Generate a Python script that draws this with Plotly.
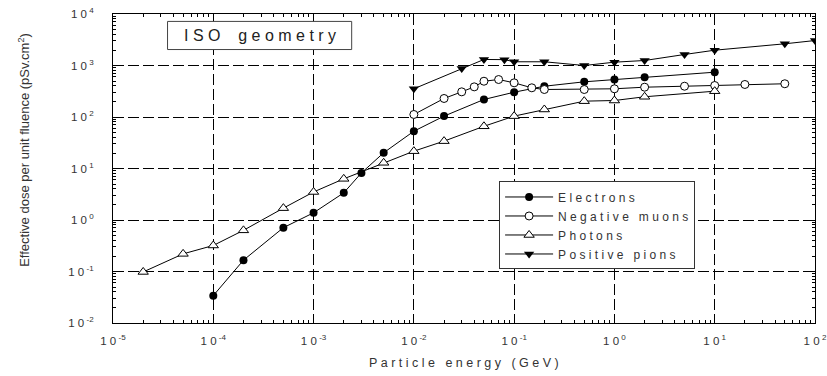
import plotly.graph_objects as go

# ---- data ----
photon_E = [2e-5, 5e-5, 1e-4, 2e-4, 5e-4, 1e-3, 2e-3, 5e-3, 0.01, 0.02, 0.05, 0.1, 0.2, 0.5, 1, 2, 10]
photon_D = [0.098, 0.22, 0.32, 0.63, 1.7, 3.5, 6.3, 12.9, 21.7, 34, 66, 104, 140, 203, 209, 247, 317]

electron_E = [1e-4, 2e-4, 5e-4, 1e-3, 2e-3, 3e-3, 5e-3, 0.01, 0.02, 0.05, 0.1, 0.2, 0.5, 1, 2, 10]
electron_D = [0.034, 0.166, 0.71, 1.38, 3.37, 8.2, 20.2, 53, 104, 219, 303, 396, 482, 534, 593, 741]

muon_E = [0.01, 0.02, 0.03, 0.04, 0.05, 0.07, 0.1, 0.15, 0.2, 0.5, 1, 2, 5, 10, 20, 50]
muon_D = [112, 229, 308, 385, 495, 534, 461, 369, 342, 342, 353, 379, 396, 409, 428, 442]

pion_E = [0.01, 0.03, 0.05, 0.08, 0.1, 0.2, 0.5, 1, 2, 5, 10, 50, 100]
pion_D = [353, 875, 1309, 1300, 1181, 1181, 1000, 1160, 1250, 1636, 1983, 2637, 3055]

x_exponents = [-5, -4, -3, -2, -1, 0, 1, 2]
y_exponents = [-2, -1, 0, 1, 2, 3, 4]

series_names = ["Electrons", "Negative muons", "Photons", "Positive pions"]
title_text = "ISO geometry"
x_title = "Particle energy (GeV)"
y_title = "Effective dose per unit fluence (pSv.cm<sup>2</sup>)"

NB = "\u00a0"
THIN = "\u2009"


def spaced(s, word_gap=3):
    """Letter-spaced rendering of a label (the reference uses wide letter spacing)."""
    words = s.split(" ")
    return (NB * word_gap).join(NB.join(list(w)) for w in words)


def pow_label(e):
    return "1" + NB + "0" + THIN + "<sup>" + str(e) + "</sup>"


x_tickvals = [10.0 ** e for e in x_exponents]
y_tickvals = [10.0 ** e for e in y_exponents]
x_ticktext = [pow_label(e) for e in x_exponents]
y_ticktext = [pow_label(e) for e in y_exponents]
x_minor = [m * 10.0 ** e for e in x_exponents[:-1] for m in range(2, 10)]
y_minor = [m * 10.0 ** e for e in y_exponents[:-1] for m in range(2, 10)]

FONT = "Liberation Sans, Arial, sans-serif"
TXT = "#333333"

fig = go.Figure()
fig.add_trace(go.Scatter(x=electron_E, y=electron_D, name=spaced(series_names[0]), mode="lines+markers",
                         line=dict(color="black", width=1),
                         marker=dict(symbol="circle", size=8, color="black")))
fig.add_trace(go.Scatter(x=muon_E, y=muon_D, name=spaced(series_names[1]), mode="lines+markers",
                         line=dict(color="black", width=1),
                         marker=dict(symbol="circle", size=8, color="white", line=dict(color="black", width=1))))
fig.add_trace(go.Scatter(x=photon_E, y=photon_D, name=spaced(series_names[2]), mode="lines+markers",
                         line=dict(color="black", width=1),
                         marker=dict(symbol="triangle-up", size=9, color="white", line=dict(color="black", width=1))))
fig.add_trace(go.Scatter(x=pion_E, y=pion_D, name=spaced(series_names[3]), mode="lines+markers",
                         line=dict(color="black", width=1),
                         marker=dict(symbol="triangle-down", size=9, color="black")))

axis_common = dict(
    type="log", automargin=False,
    showline=True, linecolor="black", linewidth=1, mirror="allticks",
    ticks="inside", ticklen=6, tickcolor="black", tickwidth=1,
    showgrid=True, gridcolor="black", gridwidth=1, griddash="11px,4px",
    zeroline=False,
    tickfont=dict(family=FONT, size=11.5, color=TXT),
)

fig.update_xaxes(range=[-5, 2], tickvals=x_tickvals, ticktext=x_ticktext, ticklabelstandoff=7,
                 minor=dict(tickmode="array", tickvals=x_minor, ticks="inside", ticklen=3,
                            tickcolor="black", showgrid=False),
                 **axis_common)
fig.update_yaxes(range=[-2, 4], tickvals=y_tickvals, ticktext=y_ticktext, ticklabelstandoff=16,
                 minor=dict(tickmode="array", tickvals=y_minor, ticks="inside", ticklen=3,
                            tickcolor="black", showgrid=False),
                 **axis_common)

fig.update_layout(
    width=827, height=376,
    margin=dict(l=113, r=12, t=14, b=53),
    paper_bgcolor="white", plot_bgcolor="white",
    font=dict(family=FONT, color=TXT),
    showlegend=True,
    legend=dict(x=0.55, y=0.458, xanchor="left", yanchor="top",
                bgcolor="white", bordercolor="#333333", borderwidth=1,
                font=dict(family=FONT, size=12, color=TXT),
                itemwidth=48, tracegroupgap=0),
    shapes=[dict(type="rect", xref="paper", yref="paper",
                 x0=0.0777, x1=0.340, y0=0.885, y1=0.976,
                 line=dict(color="#444444", width=1), fillcolor="white", layer="above")],
    annotations=[
        dict(text=spaced(title_text, 4), xref="paper", yref="paper", x=0.209, y=0.930,
             xanchor="center", yanchor="middle",
             showarrow=False, font=dict(family=FONT, size=16, color="#222222")),
        dict(text=y_title, xref="paper", yref="paper",
             x=-0.127, y=0.56, xanchor="center", yanchor="middle", textangle=-90, showarrow=False,
             font=dict(family=FONT, size=13, color=TXT)),
        dict(text=spaced(x_title), xref="paper", yref="paper",
             x=0.5, y=-0.13, showarrow=False, xanchor="center", yanchor="middle",
             font=dict(family=FONT, size=12.5, color=TXT)),
    ],
)

fig.write_html("out.html")
